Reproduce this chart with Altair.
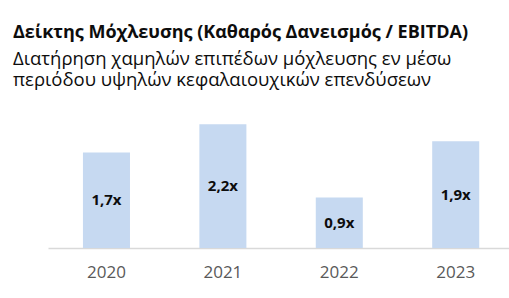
import altair as alt
import pandas as pd

years = ["2020", "2021", "2022", "2023"]
leverage = [1.7, 2.2, 0.9, 1.9]

df = pd.DataFrame({"year": years, "value": leverage})

FONT = "Open Sans"

base = alt.Chart(df).transform_calculate(
    mid="datum.value / 2",
    label="replace(format(datum.value, '.1f'), '.', ',') + 'x'",
)

x_enc = alt.X(
    "year:N",
    sort=years,
    title=None,
    scale=alt.Scale(paddingInner=0.596, paddingOuter=0.278, align=0.54),
    axis=alt.Axis(
        labelAngle=0,
        labelFont=FONT,
        labelFontSize=17,
        labelColor="#595959",
        labelPadding=16,
        ticks=False,
        domainColor="#d9d9d9",
        domainWidth=1.5,
        grid=False,
    ),
)

bars = base.mark_bar(color="#c6d9f1").encode(
    x=x_enc,
    y=alt.Y("value:Q", scale=alt.Scale(domain=[0, 2.4]), axis=None),
)

labels = base.mark_text(
    font=FONT, fontSize=15, fontWeight="bold", color="#0d0d0d", baseline="middle"
).encode(
    x=alt.X("year:N", sort=years),
    y=alt.Y("mid:Q"),
    text="label:N",
)

chart = (
    alt.layer(bars, labels)
    .properties(
        width=461,
        height=135,
        autosize=alt.AutoSizeParams(type="none"),
        padding={"left": 48, "top": 113, "right": 0, "bottom": 50},
        title=alt.TitleParams(
            text="Δείκτης Μόχλευσης (Καθαρός Δανεισμός / EBITDA)",
            subtitle=[
                "Διατήρηση χαμηλών επιπέδων μόχλευσης εν μέσω",
                "περιόδου υψηλών κεφαλαιουχικών επενδύσεων",
            ],
            anchor="start",
            dx=-35,
            offset=24,
            font=FONT,
            fontSize=18,
            fontWeight="bold",
            color="#0d0d0d",
            subtitleFont=FONT,
            subtitleFontSize=18.5,
            subtitleColor="#0d0d0d",
            subtitleLineHeight=21,
            subtitlePadding=8,
        ),
    )
    .configure_view(stroke=None)
)

chart.save("out.html", embed_options={"renderer": "svg", "actions": False})
